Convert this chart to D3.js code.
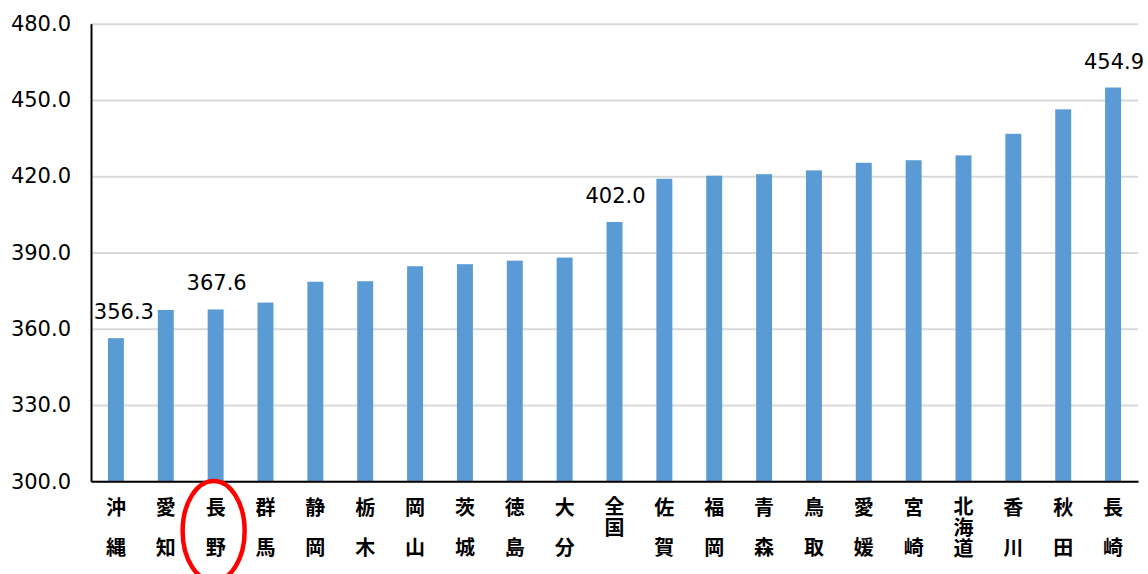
<!DOCTYPE html>
<html lang="ja">
<head>
  <meta charset="UTF-8">
  <title>都道府県別 比較</title>
  <script src="https://d3js.org/d3.v7.min.js"></script>
  <style>
    body { margin: 0; background: #fff; }
    text { font-family: "Noto Sans CJK JP", "Noto Sans", sans-serif; fill: #000; }
    .tick-label, .value-label { font-family: "DejaVu Sans", sans-serif; font-size: 21px; }
    .cat-label { font-size: 20px; font-weight: bold; }
  </style>
</head>
<body>
  <div id="chart"></div>
  <script>
    // categories (a space means the two characters sit on separate wide rows)
    const categories = ["沖 縄", "愛 知", "長 野", "群 馬", "静 岡", "栃 木", "岡 山", "茨 城", "徳 島", "大 分",
                        "全国", "佐 賀", "福 岡", "青 森", "鳥 取", "愛 媛", "宮 崎", "北海道", "香 川", "秋 田", "長 崎"];
    const values = [356.3, 367.4, 367.6, 370.3, 378.5, 378.7, 384.6, 385.4, 386.8, 388.0,
                    402.0, 419.0, 420.2, 420.8, 422.3, 425.3, 426.3, 428.2, 436.7, 446.3, 454.9];
    const yTicks = [300, 330, 360, 390, 420, 450, 480];
    const labelled = ["沖 縄", "長 野", "全国", "長 崎"];   // bars that show their value
    const circled = "長 野";

    const W = 1148, H = 574;
    const plotLeft = 91, plotRight = 1138, plotTop = 23.7, plotBottom = 481.3;

    const svg = d3.select("#chart").append("svg")
      .attr("width", W).attr("height", H);

    const x = d3.scaleBand()
      .domain(categories)
      .range([plotLeft, plotRight])
      .paddingInner(0.68)
      .paddingOuter(0.34);

    const y = d3.scaleLinear()
      .domain([300, 480])
      .range([plotBottom, plotTop]);

    // gridlines
    svg.append("g")
      .attr("transform", `translate(${plotLeft},0)`)
      .call(d3.axisLeft(y).tickValues(yTicks).tickSize(-(plotRight - plotLeft)).tickFormat(""))
      .call(g => g.select(".domain").remove())
      .call(g => g.selectAll("line").attr("stroke", "#d9d9d9").attr("stroke-width", 2));

    // bars
    svg.selectAll(".bar")
      .data(values)
      .enter()
      .append("rect")
      .attr("class", "bar")
      .attr("x", (d, i) => x(categories[i]))
      .attr("y", d => y(d))
      .attr("width", x.bandwidth())
      .attr("height", d => y(300) - y(d))
      .attr("fill", "#5b9bd5");

    // y axis
    svg.append("g")
      .attr("transform", `translate(${plotLeft},0)`)
      .call(d3.axisLeft(y).tickValues(yTicks).tickSize(0).tickPadding(20).tickFormat(d3.format(".1f")))
      .call(g => g.select(".domain").attr("stroke", "#000").attr("stroke-width", 2))
      .call(g => g.selectAll("text").attr("class", "tick-label").attr("fill", "#000"));

    // x axis line
    svg.append("g")
      .attr("transform", `translate(0,${plotBottom})`)
      .call(d3.axisBottom(x).tickSize(0).tickFormat(""))
      .call(g => g.select(".domain").attr("stroke", "#000").attr("stroke-width", 2));

    // category labels, written vertically
    svg.selectAll(".cat")
      .data(categories)
      .enter()
      .append("text")
      .attr("class", "cat-label")
      .each(function (d) {
        const cx = x(d) + x.bandwidth() / 2;
        const t = d3.select(this);
        if (d.includes(" ")) {
          t.attr("text-anchor", "middle");
          d.split(" ").forEach((r, k) => {
            t.append("tspan")
              .attr("x", cx)
              .attr("y", 506 + k * 40.5)
              .attr("dominant-baseline", "central")
              .text(r);
          });
        } else {
          // tight stack (全国, 北海道): one vertical run of text
          t.attr("x", cx)
            .attr("y", 496)
            .attr("writing-mode", "vertical-rl")
            .attr("text-anchor", "start")
            .attr("letter-spacing", 1)
            .text(d);
        }
      });

    // value labels
    svg.selectAll(".value-label")
      .data(values.map((v, i) => ({ c: categories[i], v })).filter(d => labelled.includes(d.c)))
      .enter()
      .append("text")
      .attr("class", "value-label")
      .attr("text-anchor", "middle")
      .attr("x", d => {
        const cx = x(d.c) + x.bandwidth() / 2;
        return d.c === categories[0] ? cx + 8 : cx + 1;
      })
      .attr("y", d => y(d.v) - 19)
      .text(d => d3.format(".1f")(d.v));

    // red ring round 長野
    svg.append("ellipse")
      .attr("cx", x(circled) + x.bandwidth() / 2 - 2)
      .attr("cy", 531)
      .attr("rx", 31)
      .attr("ry", 50)
      .attr("fill", "none")
      .attr("stroke", "#ff0000")
      .attr("stroke-width", 4.5);
  </script>
</body>
</html>
